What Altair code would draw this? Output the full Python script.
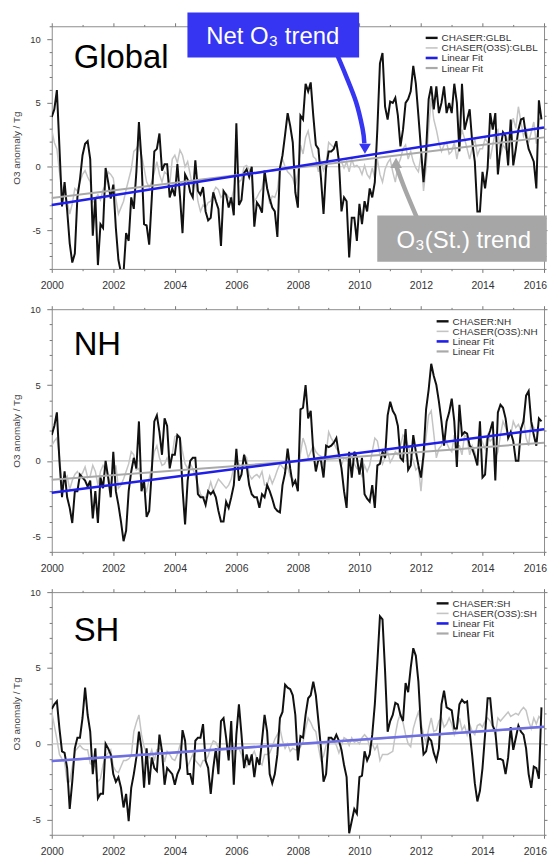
import altair as alt
import pandas as pd

# ---------------- data (monthly anomalies, Jan 2000 - Dec 2015, Tg) ----------------
glbl_chaser = [
    3.9, 4.5, 6.0, 1.5, -3.1, -1.2, -3.4, -6.0, -7.5, -6.8, -2.4, -1.0,
    0.9, 1.8, 2.0, 0.6, -5.4, -2.4, -7.7, -4.5, -4.8, -0.1, -1.2, -2.5,
    -1.4, -4.8, -7.3, -8.3, -8.3, -5.2, -5.8, -2.4, -3.3, -0.4, 3.5, 0.5,
    -4.5, -4.6, -6.1, -2.5, 1.2, 1.4, 2.6, -0.3, 0.2, 0.2, -2.4, -1.7,
    -2.3, 0.2, -2.3, -5.2, -0.6, -1.0, -2.0, -2.4, 0.5, -1.9, -2.2, -1.6,
    -3.5, -4.2, -4.0, -2.0, -2.7, -3.3, -6.2, -1.9, -2.2, -3.2, -2.4, -3.8,
    3.4, -3.0, -2.6, -0.5, -0.2, -0.8, 0.0, -4.7, -2.8, -3.1, -3.6, -0.3,
    -1.7, -2.5, -3.2, -3.5, -5.5, -0.1, 0.9, 2.5, 4.2, 3.2, 1.9, -2.0,
    -3.2, 4.0, 3.7, 6.5, 5.9, 6.6, 4.0, 1.7, 1.4, -0.9, -3.7, -0.1,
    1.2, 1.2, 1.4, 2.0, 0.4, -3.5, -2.4, -2.7, -7.1, -4.0, -4.0, -5.8,
    -2.9, -4.5, -2.7, -3.5, -1.7, -2.4, -1.2, 3.0, 8.1, 8.9, 4.7, 3.7,
    5.1, 5.0, 5.4, 4.0, 1.6, 2.9, 5.0, 5.3, 5.9, 7.9, 6.5, 4.0,
    1.4, -1.2, 1.2, 5.3, 6.3, 4.5, 6.3, 4.2, 5.0, 6.3, 4.2, 5.0,
    4.2, 6.5, 5.0, 1.2, 6.5, 2.9, 3.7, 4.5, 1.9, 0.4, -3.5, -3.5,
    -0.4, -1.7, -0.1, 4.2, 2.9, 4.2, -0.6, 1.4, 2.7, 2.4, 0.1, 3.7,
    0.1, 1.4, 2.9, 3.7, 3.8, 2.4, 1.4, 0.9, 0.4, -1.7, 5.2, 3.7,
]
glbl_o3s = [
    2.9, 1.9, 1.4, -0.4, -1.7, -2.2, -2.7, -3.7, -2.9, -1.7, -1.9, -1.2,
    -0.6, -0.3, -0.8, -1.2, -2.8, -2.5, -2.2, -2.6, -1.8, -1.4, -0.4, -0.6,
    -0.9, -2.5, -3.7, -3.2, -2.7, -1.8, -1.0, -0.2, 1.2, 1.4, 1.8, 0.9,
    -0.1, -1.2, -1.6, -1.2, -0.4, 0.4, -0.6, -1.2, -0.4, -0.6, -1.4, 0.6,
    0.9, 0.3, 1.3, 0.9, 0.0, 0.4, -0.6, -1.7, -1.0, -2.7, -3.5, -3.0,
    -3.2, -2.8, -2.7, -2.0, -1.6, -1.8, -2.4, -2.2, -2.1, -2.4, -2.6, -1.8,
    -0.4, -1.2, -1.0, 0.0, 0.1, -0.2, -0.6, -2.7, -2.4, -2.0, -1.7, -0.6,
    -1.5, -2.9, -2.3, -2.4, -1.8, -0.1, 0.6, 0.0, -0.4, -0.6, -0.9, -1.6,
    -0.5, 1.7, 1.0, 2.3, 2.8, 1.7, 0.8, 0.6, -0.4, 0.4, -0.3, 0.2,
    1.9, 1.7, 1.5, 1.9, 0.6, 0.4, -0.1, 0.4, -0.4, 0.6, 0.0, 0.1,
    -0.1, -0.6, 0.1, -0.6, -0.9, -0.1, -0.9, 0.6, -0.6, -1.2, -0.2, 0.3,
    0.6, -0.4, -1.2, 0.1, 0.6, 1.4, 1.7, 0.6, 1.2, 0.4, -0.1, -0.4,
    0.9, -1.9, -0.1, 3.0, 5.4, 3.7, 2.9, 1.9, 1.2, 1.7, 1.9, 1.0,
    1.2, 1.9, 0.6, 1.7, 2.9, 2.2, 1.4, 0.6, 1.5, 2.2, 0.9, 1.4,
    1.4, 2.2, 1.9, 0.6, 1.7, 2.7, 2.9, 0.9, 1.7, 1.4, 2.2, 2.9,
    3.8, 3.0, 4.7, 3.5, 2.4, 2.9, 1.9, 2.7, 3.5, 1.8, 3.7, 3.8,
]
nh_chaser = [
    1.7, 2.3, 3.2, 0.0, -2.4, -0.7, -2.4, -3.1, -4.1, -2.0, -2.0, -0.9,
    -1.1, -1.3, -1.7, -1.3, -3.8, -2.0, -4.1, -1.1, -1.8, 0.0, -1.1, -2.4,
    0.6, -2.0, -2.9, -4.0, -5.3, -4.6, -2.0, -0.7, 0.2, -0.5, 2.6, -2.0,
    -1.3, -3.7, -3.3, -0.7, 2.6, 3.0, 1.9, 0.4, 2.8, 2.3, -0.5, 0.4,
    0.4, 1.7, 1.5, -1.8, -4.2, -1.3, 0.0, 0.2, 0.2, -2.2, -2.4, -2.4,
    -2.9, -2.0, -2.2, -2.0, -2.4, -3.3, -4.0, -4.0, -2.7, -3.1, -2.4, -1.6,
    0.8, -1.3, -0.9, 0.4, -0.3, -1.6, -2.2, -2.4, -2.4, -3.1, -2.2, -2.4,
    -1.6, -2.0, -2.5, -3.1, -3.3, -3.4, -1.6, -0.8, 0.8, -0.5, -1.6, -1.3,
    -2.0, 3.4, 3.5, 5.0, 2.8, 3.3, 0.6, -0.7, 0.1, 0.0, -1.1, 1.0,
    0.9, 1.0, 1.2, 1.5, 0.4, -0.5, -2.0, -3.1, 0.6, -1.1, 0.6, 0.2,
    -0.9, 0.2, -2.2, -2.5, -2.7, -1.6, -3.1, -0.3, -0.2, 0.6, 0.2, 3.0,
    3.9, 3.3, 3.0, 2.3, 0.2, 0.0, 2.1, -0.6, -0.3, 1.7, 0.6, -0.3,
    -1.1, 0.4, 3.4, 4.7, 6.4, 5.6, 5.0, 3.9, 2.6, 1.0, 2.6, 3.2,
    4.1, 2.6, -0.4, 3.7, 1.7, 1.9, 1.8, 1.0, 0.8, 0.3, -0.3, 2.6,
    -1.1, -0.9, 1.5, 2.0, 2.6, -1.3, 3.2, 3.7, 3.5, 2.8, 1.5, 1.9,
    1.3, 0.0, 0.0, 2.1, 2.6, 4.3, 4.6, 2.6, 1.7, 1.0, 2.8, 2.6,
]
nh_o3s = [
    1.0, 1.3, 1.5, 0.3, -1.6, -1.2, -1.0, -1.9, -1.3, -0.9, -0.7, -1.0,
    -0.8, -0.4, -1.1, -1.0, -0.3, -0.7, -1.6, -0.7, -0.3, -0.6, -1.0, -1.7,
    -0.8, -0.3, -1.8, -1.6, -1.2, -0.7, -0.2, 0.6, 0.4, -0.6, -0.5, -1.4,
    -1.6, -2.0, -1.2, -0.3, 0.6, 1.0, 0.2, -0.3, -0.2, 0.2, -0.3, 0.4,
    1.6, 1.7, 1.6, 0.6, -0.2, -0.5, -0.2, -0.5, -1.0, -1.6, -2.2, -2.4,
    -2.4, -2.0, -1.4, -2.0, -1.6, -1.2, -1.4, -1.6, -1.8, -1.6, -1.2, -0.4,
    0.0, -0.2, -0.6, 0.4, 0.2, -0.9, -1.2, -1.0, -0.9, -1.1, -0.7, -1.6,
    -1.6, -1.0, -1.5, -1.1, -0.6, -0.2, -0.4, -0.6, -0.4, -1.0, -1.2, -1.4,
    -1.8, 0.5, 1.5, 1.0, 0.2, 0.6, 1.0, 0.6, 0.4, 0.3, -0.3, 0.4,
    1.9, 1.5, 1.2, 0.8, 0.6, -0.3, 0.2, 0.1, -0.1, 0.4, -0.2, -0.5,
    -0.6, -1.0, -0.3, -0.7, -0.3, 0.6, 1.5, 1.3, 0.4, -0.2, 0.2, 0.6,
    -0.1, 0.2, 0.6, 0.4, 1.0, 1.7, 1.5, 1.0, 0.4, 0.0, -0.6, -0.4,
    -2.0, 0.0, 1.6, 3.0, 3.3, 1.8, 0.2, 0.8, 1.0, 1.7, 1.2, 0.8,
    0.6, 1.7, 1.0, 1.0, 0.4, 1.7, 1.5, 0.4, 1.0, 0.6, 0.0, 1.7,
    1.2, 0.8, 1.7, 1.3, 1.5, 0.2, 0.6, 1.7, 2.6, 2.2, 1.7, 1.7,
    2.6, 2.2, 2.4, 2.0, 2.8, 1.5, 1.0, 2.6, 2.2, 1.9, 2.0, 2.0,
]
sh_chaser = [
    2.3, 2.6, 2.8, 1.0, -0.5, -0.6, -1.6, -4.3, -2.5, -0.3, 0.4, 0.4,
    1.7, 3.7, 1.9, 0.8, -2.0, -0.3, -3.6, -3.3, -3.3, 0.0, -0.3, -0.7,
    -2.0, -2.5, -2.2, -2.9, -4.2, -3.3, -5.1, -2.9, -2.0, -0.9, 0.8, -0.3,
    -2.9, -0.3, -2.7, -0.9, -1.6, -1.8, 0.6, -0.5, -2.7, -1.6, -1.8, -2.0,
    -2.7, -2.0, -1.6, 0.9, 0.2, -2.0, -2.0, -2.7, 0.2, 0.4, 0.4, 1.3,
    -1.1, -1.6, -3.3, -1.6, -0.3, -2.0, 1.5, 1.7, 0.4, -1.1, 1.5, -2.7,
    0.6, 2.6, 0.6, -1.6, -0.7, -1.4, -0.7, -2.2, -0.9, -1.4, 0.2, 1.9,
    0.8, -2.0, -2.6, -2.0, -0.7, 1.7, 2.1, 3.9, 3.7, 3.6, 3.2, 1.9,
    -1.1, 0.5, 0.4, 1.9, 3.0, 3.2, 4.1, 3.2, 1.5, -0.3, -2.5, -2.0,
    0.4, 0.4, 0.2, 0.6, 0.2, -0.4, -1.4, -2.2, -5.9, -5.1, -4.3, -4.6,
    -2.2, -2.1, -0.5, -1.1, -0.7, 0.6, 2.6, 5.4, 8.4, 8.2, 4.8, 0.8,
    1.5, 1.9, 2.7, 2.6, 1.9, 1.5, 4.0, 3.4, 5.0, 6.3, 5.8, 4.1,
    1.1, -0.7, -0.5, 0.4, 0.2, -0.6, -1.1, -0.3, 2.6, 3.5, 2.4, 2.3,
    2.2, 1.0, 1.0, 2.6, 2.9, 2.7, 2.8, 0.8, -0.8, -2.6, -3.8, -3.1,
    -1.6, 0.6, 3.0, 3.0, 1.2, 0.8, -1.0, -1.0, -1.1, -2.0, -0.9, 1.1,
    -0.4, 0.4, 1.2, 0.8, 0.6, -0.3, -2.0, -2.9, -1.5, -1.6, -2.3, 2.4,
]
sh_o3s = [
    2.1, 1.2, 0.3, -0.7, -1.0, -1.2, -2.5, -2.5, -1.5, -0.5, -0.3, -0.1,
    -0.3, -0.4, -0.4, -1.3, -1.4, -1.5, -2.5, -2.3, -1.4, -0.8, -0.6, -0.4,
    -1.5, -1.8, -1.9, -1.5, -1.1, -1.1, -1.0, -0.8, 0.8, 1.4, 1.9, 0.6,
    -0.2, -0.6, -0.9, -0.4, -1.1, -0.4, -0.3, -0.4, -1.2, -0.5, -0.7, -1.0,
    -1.1, -0.7, -0.1, -0.6, -0.6, -1.5, -1.1, -0.7, -1.1, -1.3, -1.5, -1.1,
    -1.1, -0.8, -0.2, 0.2, 0.1, -0.3, -0.3, -0.3, -0.3, -0.3, 0.4, -0.2,
    -0.4, -0.3, -0.7, -1.3, -1.5, -1.1, -0.8, -0.5, -1.0, -1.2, -1.4, -0.7,
    -0.7, -0.6, -0.2, 0.3, 0.6, 1.0, 0.2, -0.3, 0.0, -0.5, -0.3, -0.4,
    -0.4, -0.2, 0.1, 1.0, 1.7, 1.4, 1.0, 0.8, -0.2, -1.1, -0.8, -0.1,
    0.2, 0.4, 0.2, -0.1, -0.6, -0.1, 0.4, 0.3, -0.1, 0.4, 0.1, 0.2,
    0.0, 0.4, 0.6, 0.4, -0.2, 0.0, -0.4, -0.1, -1.1, -0.7, -0.7, -0.7,
    -0.6, -0.5, 0.6, 1.5, 2.0, 1.4, 0.6, 0.0, -0.2, 1.0, 1.6, 2.1,
    1.4, 0.6, 0.1, 1.0, 1.7, 0.8, 0.9, 1.5, 1.7, 1.1, 1.3, 1.7,
    1.3, 0.6, 1.1, 1.7, 0.9, 1.2, 0.6, 1.3, 0.8, 0.6, 1.2, 1.3,
    1.1, 1.5, 1.7, 1.5, 1.1, 0.6, 1.7, 1.5, 1.7, 1.9, 2.1, 1.8,
    1.9, 2.0, 1.9, 2.2, 2.4, 2.2, 1.5, 1.0, 1.7, 1.3, 1.8, 1.6,
]

# linear fits: values at the two ends of the period
fit_years = [2000, 2016]
glbl_fit_net = [-3.0, 3.08]
glbl_fit_st = [-2.44, 2.3]
nh_fit_net = [-2.1, 2.09]
nh_fit_st = [-1.25, 1.2]
sh_fit_net = [-1.14, 1.12]
sh_fit_st = [-1.16, 1.1]

panel_titles = ["Global", "NH", "SH"]
region_keys = ["GLBL", "NH", "SH"]
y_domains = [[-8, 11], [-6, 10], [-6, 10]]
legend_labels = ["CHASER:{}", "CHASER(O3S):{}", "Linear Fit", "Linear Fit"]

# ---------------- styling ----------------
FONT = "Liberation Sans"
W, H = 495, 244
C_BLACK = "#111111"
C_O3S = "#c4c4c4"
C_BLUE = "#1f1fe8"
C_GFIT = "#a9a9a9"
C_ZERO = "#c0c0c0"
C_BOX_BLUE = "#3535f2"
C_BOX_GRAY = "#a6a6a6"

one = alt.Data(values=[{}])


def make_panel(idx, chaser, o3s, fit_net, fit_st):
    lo, hi = y_domains[idx]
    xs = alt.Scale(domain=[2000, 2016], nice=False, zero=False)
    ys = alt.Scale(domain=[lo, hi], nice=False, zero=False)
    yticks = list(range(lo, hi + 1))
    xticks = list(range(2000, 2017))

    ytick_size = {"condition": {"test": "datum.value % 5 === 0", "value": 5}, "value": 2.6}
    rtick_size = {"condition": {"test": "datum.value % 5 === 0", "value": 3}, "value": 2}
    xtick_size = {"condition": {"test": "datum.value % 2 === 0", "value": 3.5}, "value": 1.8}

    left_axis = alt.Axis(
        orient="left", values=yticks,
        labelExpr="datum.value % 5 === 0 ? toString(datum.value) : ''",
        tickSize=ytick_size, tickColor="#777", domain=False, grid=False,
        labelFont=FONT, labelFontSize=9.5, labelColor="#333", labelPadding=6.5,
        labelOverlap=False,
        title="O3 anomaly / Tg", titleFont=FONT, titleFontSize=10,
        titleFontWeight="normal", titleColor="#444", titleX=-30, titleY=H / 2,
    )
    right_axis = alt.Axis(
        orient="right", values=yticks, labels=False, tickSize=rtick_size,
        tickColor="#777", domain=False, grid=False, title=None,
    )
    bottom_axis = alt.Axis(
        orient="bottom", values=xticks, format="d",
        labelExpr="datum.value % 2 === 0 ? toString(datum.value) : ''",
        labelAlign={"condition": {"test": "datum.value === 2016", "value": "right"}, "value": "center"},
        labelOffset={"condition": {"test": "datum.value === 2016", "value": 2.5}, "value": 0},
        tickSize=xtick_size, tickColor="#777", domain=False, grid=False,
        labelFont=FONT, labelFontSize=10.5, labelColor="#333", labelPadding=8,
        labelFlush=False, labelOverlap=False, labelBound=False, title=None,
    )
    top_axis = alt.Axis(
        orient="top", values=xticks, labels=False, tickSize=xtick_size,
        tickColor="#777", domain=False, grid=False, title=None,
    )

    n = len(chaser)
    df = pd.DataFrame({
        "t": [2000 + i / 12 for i in range(n)],
        "chaser": chaser,
        "o3s": o3s,
    })
    fit = pd.DataFrame({"t": fit_years, "net": fit_net, "st": fit_st})
    zero = pd.DataFrame({"t0": [2000], "t1": [2016], "v": [0]})

    layers = []
    layers.append(alt.Chart(zero).mark_rule(color=C_ZERO, strokeWidth=1.2).encode(
        x=alt.X("t0:Q", scale=xs, axis=top_axis), x2="t1:Q",
        y=alt.Y("v:Q", scale=ys, axis=right_axis)))
    layers.append(alt.Chart(df).mark_line(color=C_O3S, strokeWidth=1.5, clip=True).encode(
        x=alt.X("t:Q", scale=xs, axis=None), y=alt.Y("o3s:Q", scale=ys, axis=None)))
    layers.append(alt.Chart(df).mark_line(color=C_BLACK, strokeWidth=2, clip=True).encode(
        x=alt.X("t:Q", scale=xs, axis=None), y=alt.Y("chaser:Q", scale=ys, axis=None)))
    layers.append(alt.Chart(fit).mark_line(color=C_GFIT, strokeWidth=2).encode(
        x=alt.X("t:Q", scale=xs, axis=None), y=alt.Y("st:Q", scale=ys, axis=None)))
    blue = C_BLUE if idx < 2 else "#6e6ee4"
    layers.append(alt.Chart(fit).mark_line(color=blue, strokeWidth=2.5).encode(
        x=alt.X("t:Q", scale=xs, axis=bottom_axis), y=alt.Y("net:Q", scale=ys, axis=left_axis)))

    # panel title
    title_base = [41.5, 46.0, 49.0][idx]
    layers.append(alt.Chart(one).mark_text(
        text=panel_titles[idx], font=FONT, fontSize=33, align="left",
        baseline="alphabetic", color="#000").encode(
        x=alt.value(22), y=alt.value(title_base)))

    # legend (drawn by hand: two entries share the label "Linear Fit")
    leg_top = [11.7, 12.2, 11.3][idx]
    sym_x = [376, 387, 387][idx]
    leg_colors = [C_BLACK, C_O3S, C_BLUE, C_GFIT]
    leg_widths = [2.4, 1.6, 2.6, 2.2]
    for k in range(4):
        yk = leg_top + 10.1 * k
        label = legend_labels[k].format(region_keys[idx])
        layers.append(alt.Chart(one).mark_rule(color=leg_colors[k], strokeWidth=leg_widths[k]).encode(
            x=alt.value(sym_x), x2=alt.value(sym_x + 12), y=alt.value(yk)))
        layers.append(alt.Chart(one).mark_text(
            text=label, font=FONT, fontSize=10, align="left", baseline="middle",
            color="#333").encode(x=alt.value(sym_x + 16), y=alt.value(yk + 0.5)))

    if idx == 0:
        boxes = pd.DataFrame({
            "x": [2004.41, 2010.58], "x2": [2009.99, 2016.09],
            "y": [12.08, -3.81], "y2": [8.55, -7.44],
            "c": [C_BOX_BLUE, C_BOX_GRAY],
        })
        labels = pd.DataFrame({
            "x": [2007.18, 2013.39], "y": [9.62, -6.38],
            "txt": ["Net O\u2083 trend", "O\u2083(St.) trend"],
        })
        blue_shaft = pd.DataFrame({
            "k": [0, 1, 2, 3, 4],
            "x": [2009.27, 2009.56, 2009.89, 2010.10, 2010.16],
            "y": [8.8, 7.14, 5.07, 3.01, 1.83],
        })
        gray_shaft = pd.DataFrame({
            "k": [0, 1, 2, 3],
            "x": [2011.86, 2011.50, 2011.29, 2011.21],
            "y": [-3.95, -1.88, -0.56, -0.02],
        })
        heads = pd.DataFrame({
            "x": [2010.18, 2011.19], "y": [1.41, 0.31],
            "shape": ["triangle-down", "triangle-up"],
            "c": [C_BOX_BLUE, C_BOX_GRAY],
        })
        layers.append(alt.Chart(blue_shaft).mark_line(
            color=C_BOX_BLUE, strokeWidth=4.5, interpolate="cardinal").encode(
            x=alt.X("x:Q", scale=xs, axis=None), y=alt.Y("y:Q", scale=ys, axis=None),
            order="k:Q"))
        layers.append(alt.Chart(gray_shaft).mark_line(
            color=C_BOX_GRAY, strokeWidth=4.5, interpolate="cardinal").encode(
            x=alt.X("x:Q", scale=xs, axis=None), y=alt.Y("y:Q", scale=ys, axis=None),
            order="k:Q"))
        layers.append(alt.Chart(heads).mark_point(filled=True, opacity=1, size=140).encode(
            x=alt.X("x:Q", scale=xs, axis=None), y=alt.Y("y:Q", scale=ys, axis=None),
            shape=alt.Shape("shape:N", scale=None), color=alt.Color("c:N", scale=None)))
        layers.append(alt.Chart(boxes).mark_rect().encode(
            x=alt.X("x:Q", scale=xs, axis=None), x2="x2:Q",
            y=alt.Y("y:Q", scale=ys, axis=None), y2="y2:Q",
            color=alt.Color("c:N", scale=None)))
        layers.append(alt.Chart(labels).mark_text(
            font=FONT, fontSize=24, color="white", align="center", baseline="alphabetic").encode(
            x=alt.X("x:Q", scale=xs, axis=None), y=alt.Y("y:Q", scale=ys, axis=None),
            text="txt:N"))

    return alt.layer(*layers).resolve_axis(x="independent", y="independent").properties(
        width=W, height=H)


p0 = make_panel(0, glbl_chaser, glbl_o3s, glbl_fit_net, glbl_fit_st)
p1 = make_panel(1, nh_chaser, nh_o3s, nh_fit_net, nh_fit_st)
p2 = make_panel(2, sh_chaser, sh_o3s, sh_fit_net, sh_fit_st)

chart = alt.vconcat(p0, p1, p2, spacing=40.5, bounds="flush").properties(
    padding={"left": 3, "top": 1, "right": 0, "bottom": 0},
    background="white",
).configure_view(stroke="#8c8c8c", strokeWidth=1)

chart.save("out.html", embed_options={"renderer": "svg", "actions": False})
